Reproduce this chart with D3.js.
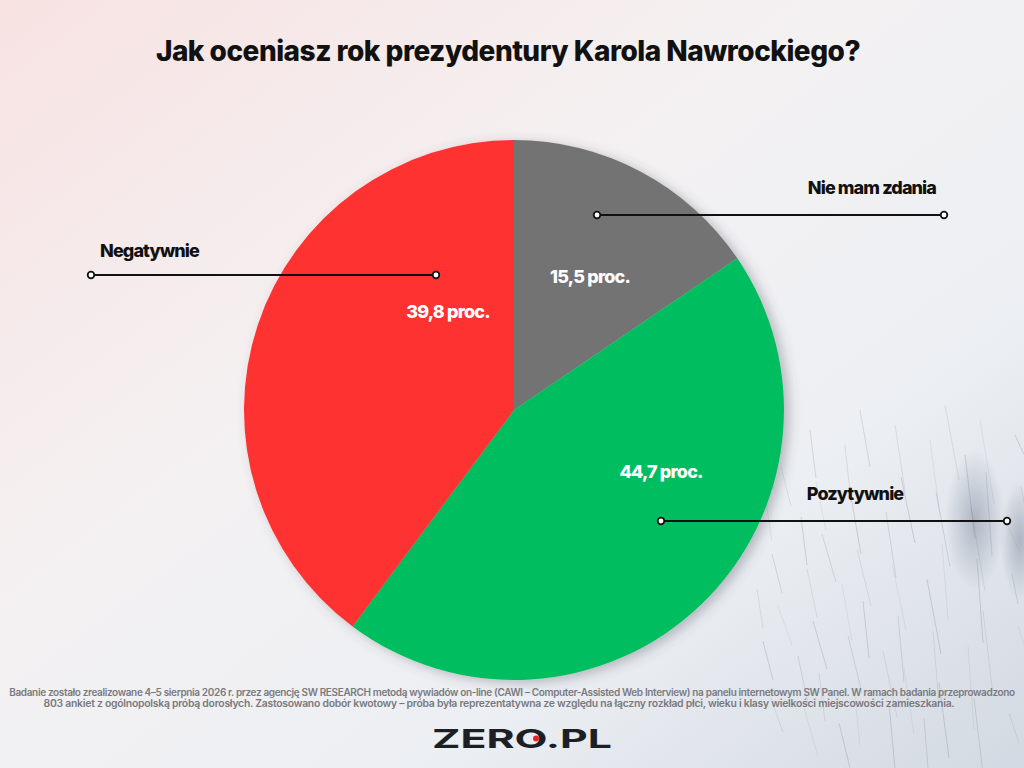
<!DOCTYPE html>
<html>
<head>
<meta charset="utf-8">
<script src="https://cdn.jsdelivr.net/npm/d3@7"></script>
<style>
  body { margin: 0; background: #f3f3f5; }
  svg { display: block; }
  text { font-family: Inter, "Noto Sans", sans-serif; }
</style>
</head>
<body>
<svg id="chart"></svg>
<script>
// data
const categories = ["Nie mam zdania", "Pozytywnie", "Negatywnie"];
const values = [15.5, 44.7, 39.8];
const colors = ["#737373", "#00be5f", "#ff3131"];

const title = "Jak oceniasz rok prezydentury Karola Nawrockiego?";
const footnote = [
  "Badanie zostało zrealizowane 4–5 sierpnia 2026 r. przez agencję SW RESEARCH metodą wywiadów on-line (CAWI – Computer-Assisted Web Interview) na panelu internetowym SW Panel. W ramach badania przeprowadzono",
  "803 ankiet z ogólnopolską próbą dorosłych. Zastosowano dobór kwotowy – próba była reprezentatywna ze względu na łączny rozkład płci, wieku i klasy wielkości miejscowości zamieszkania."
];

// layout only (where the value labels and the leader lines sit, relative to the centre)
const valuePos = [[76, -133], [147, 62], [-66, -98]];
const leader = [
  { from: [83, -195], to: [430, -195], name: [422, -222], anchor: "end" },
  { from: [147, 111], to: [493, 111], name: [341, 84], anchor: "middle" },
  { from: [-78, -135], to: [-423, -135], name: [-414, -159], anchor: "start" }
];

const width = 1024;
const height = 768;
const cx = 514, cy = 410;
const radius = 270;

const svg = d3.select("#chart").attr("width", width).attr("height", height);
const defs = svg.append("defs");

// background
const bg = defs.append("linearGradient").attr("id", "bg")
  .attr("x1", "0").attr("y1", "0").attr("x2", "1").attr("y2", "1");
bg.append("stop").attr("offset", "0%").attr("stop-color", "#f8e2e2");
bg.append("stop").attr("offset", "40%").attr("stop-color", "#f4f1f2");
bg.append("stop").attr("offset", "70%").attr("stop-color", "#eceff3");
bg.append("stop").attr("offset", "100%").attr("stop-color", "#d3d9e2");
svg.append("rect").attr("width", width).attr("height", height).attr("fill", "url(#bg)");

const blur = defs.append("radialGradient").attr("id", "smudge");
blur.append("stop").attr("offset", "0%").attr("stop-color", "#8d97a8").attr("stop-opacity", 0.6);
blur.append("stop").attr("offset", "100%").attr("stop-color", "#8d97a8").attr("stop-opacity", 0);
svg.append("ellipse").attr("cx", 975).attr("cy", 520).attr("rx", 30).attr("ry", 70).attr("fill", "url(#smudge)");
svg.append("ellipse").attr("cx", 1020).attr("cy", 540).attr("rx", 20).attr("ry", 60).attr("fill", "url(#smudge)");

// faint streaks bottom right
const streaks = d3.range(0, 60);
svg.append("g").selectAll("line")
  .data(streaks)
  .enter()
  .append("line")
  .attr("x1", d => 740 + (d * 41) % 290)
  .attr("y1", d => 400 + (d * 67) % 330)
  .attr("x2", d => 740 + (d * 41) % 290 + 6 + (d % 3) * 4)
  .attr("y2", d => 400 + (d * 67) % 330 + 30 + (d % 7) * 9)
  .attr("stroke", "#6f7a8a")
  .attr("stroke-opacity", d => 0.12 + (d % 4) * 0.05)
  .attr("stroke-width", 1);

// title
svg.append("text")
  .attr("x", 508).attr("y", 61)
  .attr("text-anchor", "middle")
  .attr("font-size", 28)
  .attr("font-weight", 800)
  .attr("letter-spacing", -0.5)
  .attr("fill", "#111")
  .text(title);

// pie
const shadow = defs.append("filter").attr("id", "shadow")
  .attr("x", "-20%").attr("y", "-20%").attr("width", "140%").attr("height", "140%");
shadow.append("feDropShadow").attr("dx", 5).attr("dy", 3).attr("stdDeviation", 6)
  .attr("flood-color", "#4a5060").attr("flood-opacity", 0.35);

const pie = d3.pie().value(d => d).sort(null);
const arcs = pie(values);
const arcGenerator = d3.arc().innerRadius(0).outerRadius(radius);

const g = svg.append("g").attr("transform", `translate(${cx}, ${cy})`);

g.append("g").attr("filter", "url(#shadow)")
  .selectAll("path")
  .data(arcs)
  .enter()
  .append("path")
  .attr("d", arcGenerator)
  .attr("fill", (d, i) => colors[i]);

// value labels
const fmt = v => d3.format(".1f")(v).replace(".", ",") + " proc.";
g.selectAll(".value")
  .data(arcs)
  .enter()
  .append("text")
  .attr("class", "value")
  .attr("x", (d, i) => valuePos[i][0])
  .attr("y", (d, i) => valuePos[i][1])
  .attr("dy", "0.35em")
  .attr("text-anchor", "middle")
  .attr("font-size", 18)
  .attr("font-weight", 800)
  .attr("letter-spacing", -0.8)
  .attr("fill", "#fff")
  .text(d => fmt(d.data));

// leader lines with category names
const leaders = g.selectAll(".leader")
  .data(arcs)
  .enter()
  .append("g")
  .attr("class", "leader");

leaders.append("line")
  .attr("x1", (d, i) => leader[i].from[0])
  .attr("y1", (d, i) => leader[i].from[1])
  .attr("x2", (d, i) => leader[i].to[0])
  .attr("y2", (d, i) => leader[i].to[1])
  .attr("stroke", "#111")
  .attr("stroke-width", 2);

leaders.selectAll("circle")
  .data((d, i) => [leader[i].from, leader[i].to])
  .enter()
  .append("circle")
  .attr("cx", p => p[0])
  .attr("cy", p => p[1])
  .attr("r", 3.3)
  .attr("fill", "#fff")
  .attr("stroke", "#111")
  .attr("stroke-width", 1.8);

leaders.append("text")
  .attr("x", (d, i) => leader[i].name[0])
  .attr("y", (d, i) => leader[i].name[1])
  .attr("dy", "0.35em")
  .attr("text-anchor", (d, i) => leader[i].anchor)
  .attr("font-size", 18)
  .attr("font-weight", 800)
  .attr("letter-spacing", -0.9)
  .attr("fill", "#111")
  .text((d, i) => categories[i]);

// footnote, first line narrowed so it stays inside the page
svg.append("text")
  .attr("x", 512).attr("y", 696)
  .attr("text-anchor", "middle")
  .attr("font-size", 10)
  .attr("font-weight", 600)
  .attr("letter-spacing", -0.35)
  .attr("fill", "#7a7a7e")
  .text(footnote[0]);
svg.append("text")
  .attr("x", 499).attr("y", 707)
  .attr("text-anchor", "middle")
  .attr("font-size", 10.4)
  .attr("font-weight", 600)
  .attr("letter-spacing", -0.25)
  .attr("fill", "#7a7a7e")
  .text(footnote[1]);

// logo
const logo = svg.append("g").attr("transform", "translate(432, 728)");
logo.append("text")
  .attr("x", 0).attr("y", 20)
  .attr("font-size", 26)
  .attr("font-weight", 700)
  .attr("textLength", 180)
  .attr("lengthAdjust", "spacingAndGlyphs")
  .attr("fill", "#1c1f26")
  .text("ZERO.PL");
logo.append("circle").attr("cx", 104).attr("cy", 10.5).attr("r", 3).attr("fill", "#e8202a");
</script>
</body>
</html>
